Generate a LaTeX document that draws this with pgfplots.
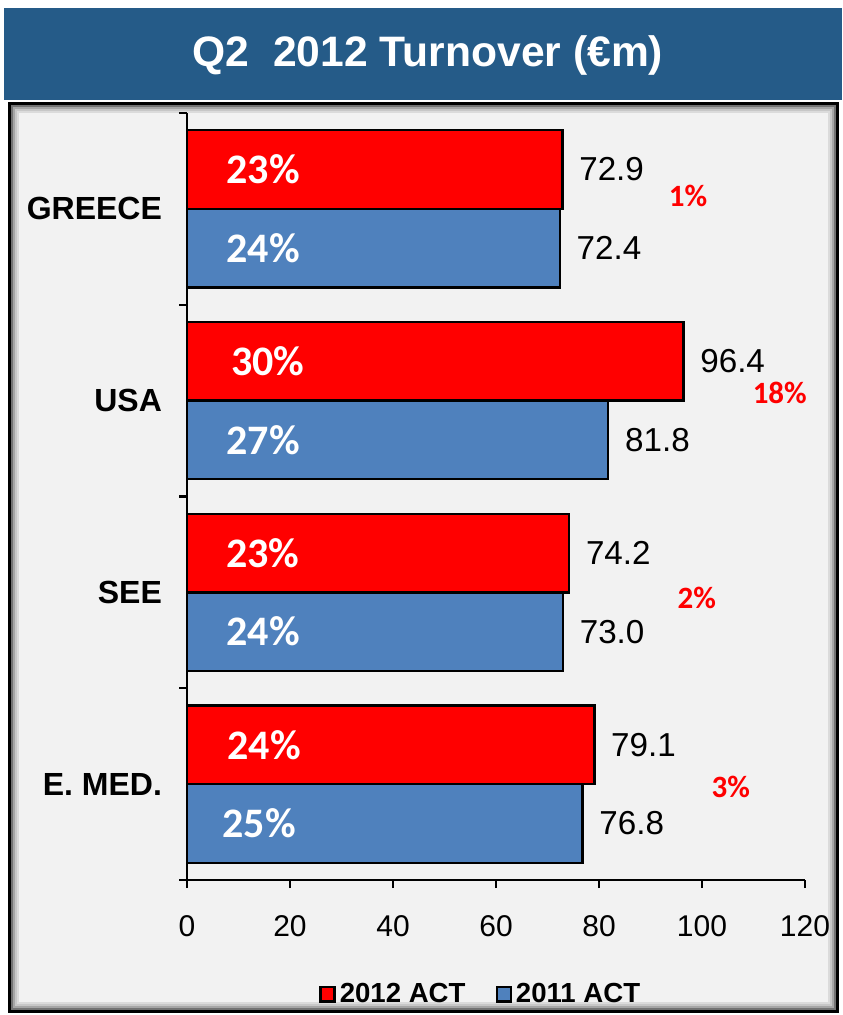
\documentclass[border=0pt]{standalone}
\usepackage{fontspec}
\setmainfont{Liberation Sans}
\newfontfamily\calibri{Carlito}
\usepackage{pgfplots}
\pgfplotsset{compat=1.18}
\definecolor{barred}{RGB}{255,0,0}
\definecolor{barblue}{RGB}{79,129,189}
\definecolor{titlebar}{RGB}{37,91,136}
\definecolor{panel}{RGB}{242,242,242}

\begin{document}
\begin{tikzpicture}
% frame, title bar and grey panel (1 px = 0.5pt)
\begin{scope}[x=0.5pt,y=-0.5pt]
\useasboundingbox (0,0) rectangle (842,1015);
\fill[white] (0,0) rectangle (842,1015);
\fill[titlebar] (4,8) rectangle (842,100);
\node[text=white, font=\fontsize{21.3}{25}\selectfont\bfseries] at (428,55) {Q2\ \ 2012 Turnover (€m)};
\fill[black] (8,102) rectangle (839,1013);
\fill[black!55] (11,105) rectangle (836,1010);
\fill[black!35] (13,107) rectangle (834,1008);
\fill[black!22] (15,109) rectangle (832,1006);
\fill[black!14] (17,111) rectangle (830,1004);
\fill[panel] (19,113) rectangle (828,1002);
\end{scope}

\begin{axis}[
    at={(93.5pt,-440pt)}, anchor=south west,
    width=309pt, height=383.5pt, scale only axis,
    xmin=0, xmax=120, ymin=-0.5, ymax=3.5,
    clip=false,
    axis x line*=bottom, axis y line*=left,
    axis line style={line width=1.2pt, black, -},
    xtick={0,20,...,120},
    ytick={-0.5,0.5,1.5,2.5,3.5},
    yticklabels={},
    extra y ticks={0,1,2,3},
    extra y tick labels={E. MED., SEE, USA, GREECE},
    extra y tick style={major tick length=0pt, tick style={draw=none}},
    tick align=outside,
    major tick length=4pt,
    tick style={line width=1.2pt, black},
    /pgf/number format/assume math mode=true,
    xticklabel style={font=\fontsize{15}{18}\selectfont, yshift=-10pt},
    yticklabel style={font=\fontsize{16}{19}\selectfont\bfseries, xshift=-9pt},
    legend image code/.code={\draw[#1,draw=black,line width=1.2pt] (-2pt,-3.6pt) rectangle (5pt,3.6pt);},
    legend style={draw=none, fill=none, at={(0.477,-0.149)}, anchor=center,
        legend columns=2, font=\fontsize{13.8}{16}\selectfont\bfseries,
        /tikz/every even column/.append style={column sep=13pt}},
    legend cell align=left,
]
% 2012 bars sit 0.205 above each category, 2011 bars 0.205 below
\addplot[xbar, bar width=0.41, bar shift=0, fill=barred, draw=black, line width=1.2pt,
    point meta=x,
    nodes near coords={\pgfmathprintnumber[fixed,fixed zerofill,precision=1]{\pgfplotspointmeta}},
    every node near coord/.append style={anchor=west, text=black, xshift=4.5pt,
        font=\fontsize{16.6}{19}\selectfont}]
    coordinates {(72.9,3.205) (96.4,2.205) (74.2,1.205) (79.1,0.205)};
\addplot[xbar, bar width=0.41, bar shift=0, fill=barblue, draw=black, line width=1.2pt,
    point meta=x,
    nodes near coords={\pgfmathprintnumber[fixed,fixed zerofill,precision=1]{\pgfplotspointmeta}},
    every node near coord/.append style={anchor=west, text=black, xshift=4.5pt,
        font=\fontsize{16.6}{19}\selectfont}]
    coordinates {(72.4,2.795) (81.8,1.795) (73.0,0.795) (76.8,-0.205)};
% shares inside the bars
\addplot[forget plot, only marks, mark=*, mark size=0pt, mark options={draw=none,fill=none},
    point meta=explicit symbolic, nodes near coords,
    every node near coord/.append style={anchor=center, text=white,
        font=\calibri\bfseries\fontsize{21}{25}\selectfont}]
    coordinates {(14.8,3.205)[23\%] (15.7,2.205)[30\%] (14.7,1.205)[23\%] (15.0,0.205)[24\%]
                 (14.8,2.795)[24\%] (14.8,1.795)[27\%] (14.8,0.795)[24\%] (14.0,-0.205)[25\%]};
% growth 2012 vs 2011
\addplot[forget plot, only marks, mark=*, mark size=0pt, mark options={draw=none,fill=none},
    point meta=explicit symbolic, nodes near coords,
    every node near coord/.append style={anchor=center, text=barred,
        font=\calibri\bfseries\fontsize{15.5}{18}\selectfont}]
    coordinates {(97.3,3.07)[1\%] (115.1,2.04)[18\%] (99.0,0.97)[2\%] (105.6,-0.015)[3\%]};
\legend{2012 ACT, 2011 ACT}
\end{axis}
\end{tikzpicture}
\end{document}
